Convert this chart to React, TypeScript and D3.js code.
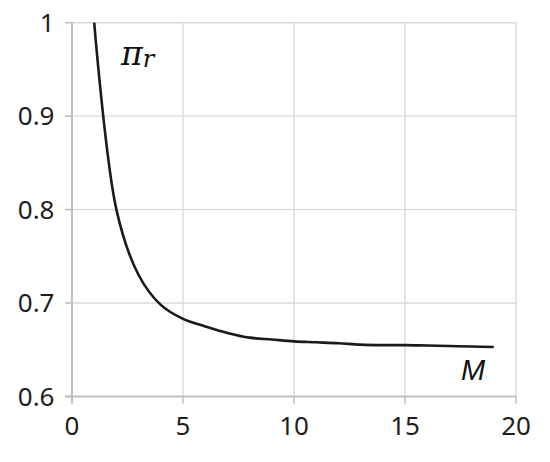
import React from "react";
import * as d3 from "d3";

const mValues = [1, 2, 3, 4, 5, 6, 7, 8, 9, 10, 11, 12, 13, 14, 15, 16, 17, 18, 19];
const piValues = [1.0, 0.8, 0.73, 0.698, 0.683, 0.675, 0.668, 0.663, 0.661, 0.659, 0.658, 0.657, 0.6555, 0.655, 0.655, 0.6545, 0.654, 0.6535, 0.653];
const xTicks = [0, 5, 10, 15, 20];
const yTicks = [0.6, 0.7, 0.8, 0.9, 1];
const yTickLabels = ["0.6", "0.7", "0.8", "0.9", "1"];

const W = 550;
const H = 462;

export default function App() {
  const x = d3.scaleLinear().domain([0, 20]).range([72, 516]);
  const y = d3.scaleLinear().domain([0.6, 1]).range([396.5, 22.7]);
  const pts = mValues.map((m, i) => [m, piValues[i]] as [number, number]);
  const line = d3
    .line<[number, number]>()
    .x((d) => x(d[0]))
    .y((d) => y(d[1]))
    .curve(d3.curveCatmullRom.alpha(0.5));
  const font = "'Noto Sans', 'Liberation Sans', sans-serif";
  return (
    <svg
      width={W}
      height={H}
      style={{ position: "absolute", left: 0, top: 0, background: "#fff" }}
    >
      <rect x={0} y={0} width={W} height={H} fill="#fff" />
      <defs>
        <clipPath id="plotclip">
          <rect x={x(0)} y={y(1) - 1} width={x(20) - x(0)} height={y(0.6) - y(1) + 1} />
        </clipPath>
      </defs>
      {/* gridlines */}
      {xTicks.slice(1).map((t) => (
        <line key={"gx" + t} x1={x(t)} x2={x(t)} y1={y(1)} y2={y(0.6)} stroke="#d9d9d9" strokeWidth={1.4} />
      ))}
      {yTicks.slice(1).map((t) => (
        <line key={"gy" + t} x1={x(0)} x2={x(20)} y1={y(t)} y2={y(t)} stroke="#d9d9d9" strokeWidth={1.4} />
      ))}
      {/* axes */}
      <line x1={x(0)} x2={x(0)} y1={y(1)} y2={y(0.6) + 7} stroke="#c0c0c0" strokeWidth={2} />
      <line x1={x(0) - 7} x2={x(20)} y1={y(0.6)} y2={y(0.6)} stroke="#c0c0c0" strokeWidth={2} />
      {yTicks.map((t) => (
        <line key={"ty" + t} x1={x(0) - 7} x2={x(0)} y1={y(t)} y2={y(t)} stroke="#c0c0c0" strokeWidth={1.6} />
      ))}
      {xTicks.map((t) => (
        <line key={"tx" + t} x1={x(t)} x2={x(t)} y1={y(0.6)} y2={y(0.6) + 7} stroke="#c0c0c0" strokeWidth={1.6} />
      ))}
      {/* tick labels */}
      {yTicks.map((t, i) => (
        <text
          key={"ly" + t}
          x={54.5}
          y={y(t)}
          dy="0.35em"
          textAnchor="end"
          fontFamily={font}
          fontSize={26}
          fill="#1e1e1e"
        >
          {yTickLabels[i]}
        </text>
      ))}
      {xTicks.map((t) => (
        <text
          key={"lx" + t}
          x={x(t)}
          y={435}
          textAnchor="middle"
          fontFamily={font}
          fontSize={26}
          fill="#1e1e1e"
        >
          {String(t)}
        </text>
      ))}
      {/* curve */}
      <path
        d={line(pts) || ""}
        fill="none"
        stroke="#1a1a1a"
        strokeWidth={2.6}
        clipPath="url(#plotclip)"
      />
      {/* labels */}
      <text x={121} y={65} fontFamily="'DejaVu Serif', serif" fontStyle="italic" fontSize={33} fill="#111">
        π
        <tspan fontSize={24} dy={2}>r</tspan>
      </text>
      <text x={461} y={380} fontFamily="'Liberation Sans', Arial, sans-serif" fontStyle="italic" fontSize={29} fill="#111">
        M
      </text>
    </svg>
  );
}
